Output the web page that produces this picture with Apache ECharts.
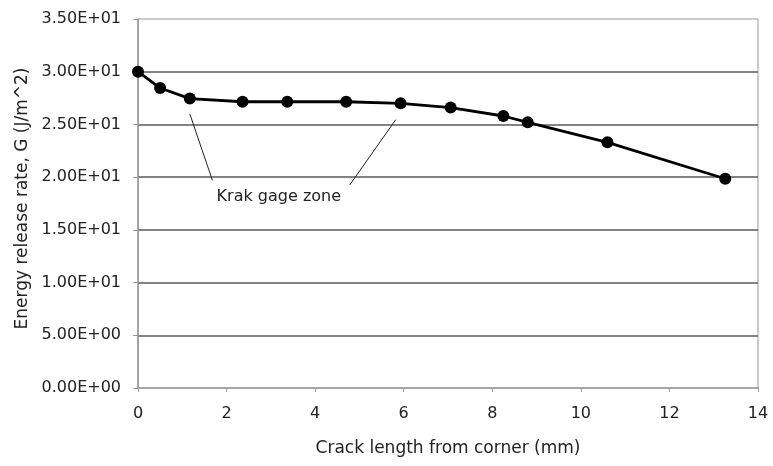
<!DOCTYPE html>
<html>
<head>
<meta charset="utf-8">
<script src="https://cdn.jsdelivr.net/npm/echarts@6/dist/echarts.min.js"></script>
<style>html,body{margin:0;padding:0;background:#fff;}#c{width:773px;height:466px;}</style>
</head>
<body>
<div id="c"></div>
<script>
var crackLength = [0, 0.5, 1.17, 2.36, 3.37, 4.70, 5.93, 7.06, 8.25, 8.80, 10.60, 13.26];
var energyRate = [30.0, 28.45, 27.45, 27.15, 27.15, 27.15, 27.0, 26.6, 25.8, 25.2, 23.3, 19.85];
var yTickLabels = ['0.00E+00','5.00E+00','1.00E+01','1.50E+01','2.00E+01','2.50E+01','3.00E+01','3.50E+01'];
var annotationText = 'Krak gage zone';
var leader1 = [[1.17, 26.0], [1.68, 19.7]];
var leader2 = [[5.82, 25.45], [4.78, 19.25]];
var annotationAt = [3.18, 18.1];

var font = 'DejaVu Sans';
var chart = echarts.init(document.getElementById('c'));
chart.setOption({
  animation: false,
  backgroundColor: '#fff',
  grid: { left: 138, right: 15, top: 19, bottom: 78, show: true, borderColor: '#999', borderWidth: 1, backgroundColor: 'transparent' },
  xAxis: {
    type: 'value', min: 0, max: 14, interval: 2,
    name: 'Crack length from corner (mm)', nameLocation: 'middle', nameGap: 52,
    nameTextStyle: { fontFamily: font, fontSize: 17, color: '#222' },
    axisLine: { lineStyle: { color: '#999', width: 1.5 } },
    axisTick: { show: true, length: 4, lineStyle: { color: '#999' } },
    axisLabel: { fontFamily: font, fontSize: 16, color: '#222', margin: 18 },
    splitLine: { show: false }
  },
  yAxis: {
    type: 'value', min: 0, max: 35, interval: 5,
    name: 'Energy release rate, G (J/m^2)', nameLocation: 'middle', nameGap: 103,
    nameTextStyle: { fontFamily: font, fontSize: 17, color: '#222', padding: [0, 0, 0, 10] },
    axisLine: { show: true, lineStyle: { color: '#999', width: 1.5 } },
    axisTick: { show: true, length: 5, lineStyle: { color: '#999' } },
    axisLabel: { fontFamily: font, fontSize: 16, color: '#222', margin: 17,
      formatter: function (v) { return yTickLabels[Math.round(v / 5)]; } },
    splitLine: { show: true, showMinLine: false, showMaxLine: false, lineStyle: { color: '#5a5a5a', width: 1.6 } }
  },
  series: [{
    type: 'line',
    data: crackLength.map(function (x, i) { return [x, energyRate[i]]; }),
    smooth: false,
    symbol: 'circle', symbolSize: 12,
    lineStyle: { color: '#000', width: 2.8 },
    itemStyle: { color: '#000' },
    markLine: {
      silent: true, symbol: 'none', label: { show: false },
      lineStyle: { color: '#222', width: 1, type: 'solid' },
      data: [
        [{ coord: leader1[0] }, { coord: leader1[1] }],
        [{ coord: leader2[0] }, { coord: leader2[1] }]
      ]
    },
    markPoint: {
      silent: true, symbol: 'circle', symbolSize: 0,
      label: { show: true, position: 'inside', formatter: annotationText, fontFamily: font, fontSize: 16, color: '#222' },
      data: [{ coord: annotationAt }]
    }
  }]
});
</script>
</body>
</html>
